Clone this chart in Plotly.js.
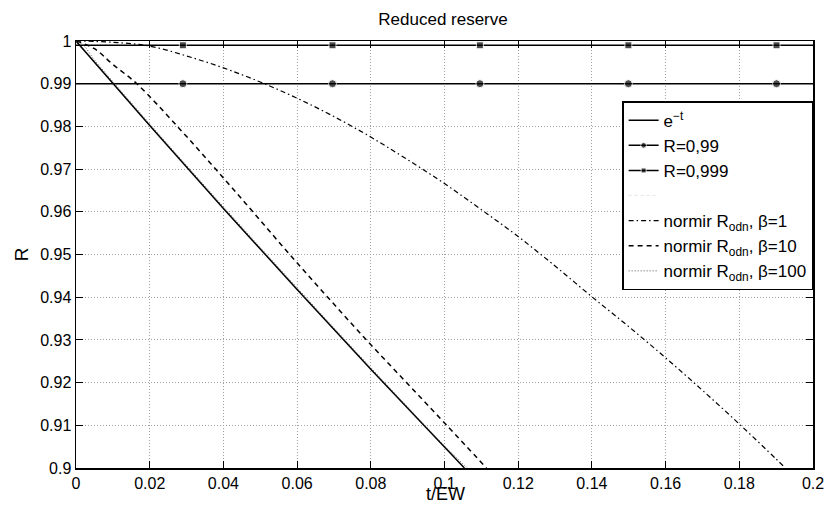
<!DOCTYPE html>
<html>
<head>
<meta charset="utf-8">
<script src="https://cdn.plot.ly/plotly-3.0.1.min.js"></script>
<style>html,body{margin:0;padding:0;background:#fff;}#chart{width:825px;height:506px;}</style>
</head>
<body>
<div id="chart"></div>
<script>
// e^-t curve
const tExp = [0, 0.02, 0.04, 0.06, 0.08, 0.10, 0.1054];
const rExp = [1.0, 0.9802, 0.9608, 0.9418, 0.9231, 0.9048, 0.9];

// reference levels with markers
const tLevel = [0, 0.029, 0.0696, 0.1096, 0.1499, 0.1901, 0.2];
const r099 = [0.99, 0.99, 0.99, 0.99, 0.99, 0.99, 0.99];
const r0999 = [0.999, 0.999, 0.999, 0.999, 0.999, 0.999, 0.999];
const markerSizes = [0, 8, 8, 8, 8, 8, 0];
const squareSizes = [0, 7, 7, 7, 7, 7, 0];

// normir R_odn, beta = 1
const tB1 = [0, 0.01, 0.02, 0.03, 0.04, 0.05, 0.06, 0.07, 0.08, 0.09, 0.10, 0.11, 0.12, 0.13, 0.14, 0.15, 0.16, 0.17, 0.18, 0.19, 0.1925];
const rB1 = [1.0, 0.9997, 0.9988, 0.9965, 0.9937, 0.9904, 0.9866, 0.9823, 0.9775, 0.9722, 0.9666, 0.9605, 0.9542, 0.9473, 0.9401, 0.9331, 0.9258, 0.9182, 0.9103, 0.9021, 0.9];

// normir R_odn, beta = 10
const tB10 = [0, 0.005, 0.01, 0.0165, 0.0275, 0.0379, 0.048, 0.058, 0.0683, 0.0788, 0.0897, 0.1006, 0.1114];
const rB10 = [1.0, 0.9982, 0.9945, 0.99, 0.98, 0.97, 0.96, 0.95, 0.94, 0.93, 0.92, 0.91, 0.90];

// normir R_odn, beta = 100
const tB100 = [0, 0.002, 0.005, 0.02, 0.04, 0.06, 0.08, 0.10, 0.1062];
const rB100 = [1.0, 0.9990, 0.9956, 0.9806, 0.9612, 0.9422, 0.9235, 0.9052, 0.9];

const xTicks = [0, 0.02, 0.04, 0.06, 0.08, 0.1, 0.12, 0.14, 0.16, 0.18, 0.2];
const yTicks = [0.9, 0.91, 0.92, 0.93, 0.94, 0.95, 0.96, 0.97, 0.98, 0.99, 1];

const FONT = 'Liberation Sans, Arial, sans-serif';

const traces = [
  {x: tExp, y: rExp, mode: 'lines', name: 'e<sup>\u2212t</sup>', line: {color: '#000', width: 1.5}},
  {x: tLevel, y: r099, mode: 'lines+markers', name: 'R=0,99', line: {color: '#000', width: 1.5},
   marker: {symbol: 'circle', size: markerSizes, color: '#000'}},
  {x: tLevel, y: r0999, mode: 'lines+markers', name: 'R=0,999', line: {color: '#000', width: 1.5},
   marker: {symbol: 'square', size: squareSizes, color: '#000'}},
  {x: [-1, -0.5], y: [0.5, 0.5], mode: 'lines', name: ' ', line: {color: '#e4e4e4', width: 1, dash: '3px,3px'}},
  {x: tB1, y: rB1, mode: 'lines', name: 'normir R<sub>odn</sub>, \u03b2=1', line: {color: '#000', width: 1.2, dash: '5px,3px,1.5px,3px', shape: 'spline'}},
  {x: tB10, y: rB10, mode: 'lines', name: 'normir R<sub>odn</sub>, \u03b2=10', line: {color: '#000', width: 1.5, dash: '5px,4px', shape: 'spline'}},
  {x: tB100, y: rB100, mode: 'lines', name: 'normir R<sub>odn</sub>, \u03b2=100', line: {color: '#555', width: 1, dash: '1px,2px', shape: 'spline'}}
];

const axisCommon = {
  showline: true, linecolor: '#000', linewidth: 1.5, mirror: 'ticks',
  ticks: 'inside', ticklen: 7, tickcolor: '#000', tickwidth: 1,
  showgrid: true, gridcolor: '#a0a0a0', griddash: '1px,2px', gridwidth: 1,
  zeroline: false,
  tickfont: {family: FONT, size: 16, color: '#000'}
};

const layout = {
  width: 825, height: 506,
  margin: {l: 76, r: 12, t: 41, b: 38},
  paper_bgcolor: '#fff', plot_bgcolor: '#fff',
  showlegend: true,
  title: {text: 'Reduced reserve', x: 0.537, xanchor: 'center', y: 0.963, yanchor: 'middle',
    font: {family: FONT, size: 17, color: '#000'}},
  xaxis: Object.assign({}, axisCommon, {
    range: [0, 0.2], tickvals: xTicks, ticktext: xTicks.map(String),
    automargin: false
  }),
  yaxis: Object.assign({}, axisCommon, {
    range: [0.9, 1], tickvals: yTicks, ticktext: yTicks.map(String),
    title: {text: 'R', standoff: 6, font: {family: FONT, size: 19, color: '#000'}},
    automargin: false
  }),
  annotations: [{
    text: 't/EW', xref: 'paper', yref: 'paper', x: 0.5007, y: -0.0875,
    xanchor: 'center', yanchor: 'bottom', showarrow: false, borderpad: 0,
    font: {family: FONT, size: 18, color: '#000'}
  }],
  legend: {
    x: 0.741, y: 0.859, xanchor: 'left', yanchor: 'top',
    bgcolor: '#fff', bordercolor: '#000', borderwidth: 1.5,
    font: {family: FONT, size: 17, color: '#000'},
    itemwidth: 30, tracegroupgap: 0
  }
};

Plotly.newPlot('chart', traces, layout, {staticPlot: true, displayModeBar: false});
</script>
</body>
</html>
